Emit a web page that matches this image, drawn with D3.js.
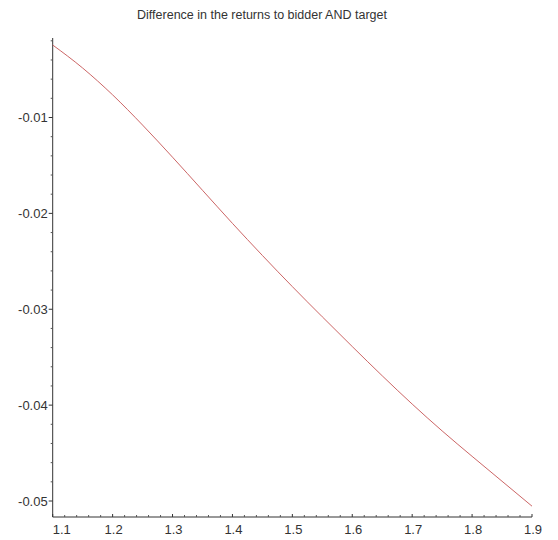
<!DOCTYPE html>
<html>
<head>
<meta charset="utf-8">
<script src="https://cdn.jsdelivr.net/npm/d3@7"></script>
<style>
  body { margin: 0; background: #fff; }
  text { font-family: "Liberation Sans", Arial, sans-serif; fill: #333; }
</style>
</head>
<body>
<script>
var Chart = {
  width : 558,
  height : 540
};

// x values of the curve and the difference
var xs = [1.10, 1.15, 1.20, 1.25, 1.30, 1.35, 1.40, 1.45, 1.50,
          1.55, 1.60, 1.65, 1.70, 1.75, 1.80, 1.85, 1.90];
var diff = [-0.00244, -0.00484, -0.00764, -0.01079, -0.01414, -0.01759,
            -0.02104, -0.02439, -0.02764, -0.03079, -0.03389, -0.03694,
            -0.03989, -0.04269, -0.04534, -0.04794, -0.05054];

var xTicks = [1.1, 1.2, 1.3, 1.4, 1.5, 1.6, 1.7, 1.8, 1.9];
var yTicks = [-0.01, -0.02, -0.03, -0.04, -0.05];
var title = "Difference in the returns to bidder AND target";

var svg = d3.select('body').append('svg')
  .attr('width', Chart.width)
  .attr('height', Chart.height);

var x = d3.scaleLinear().domain([1.1, 1.9]).range([52.7, 532]);
var y = d3.scaleLinear().domain([-0.05, -0.01]).range([501, 117.5]);

// axis extents
var yTop = y.invert(38), yBottom = y.invert(517);

// minor ticks every 0.02 on x and 0.002 on y
var xMinor = d3.range(0, 41).map(function(i){ return 1.1 + i * 0.02; })
  .filter(function(v){ return Math.abs(Math.round(v * 10) - v * 10) > 1e-6; });
var yMinor = d3.range(0, 26).map(function(i){ return -0.002 - i * 0.002; })
  .filter(function(v){ return v <= yTop && v >= yBottom &&
    Math.abs(Math.round(v * 100) - v * 100) > 1e-6; });

// axis lines
svg.append('line')
  .attr('x1', x(1.1)).attr('x2', x(1.1))
  .attr('y1', y(yTop)).attr('y2', y(yBottom))
  .attr('stroke', '#333');
svg.append('line')
  .attr('x1', x(1.1)).attr('x2', x(1.9))
  .attr('y1', y(yBottom)).attr('y2', y(yBottom))
  .attr('stroke', '#333');

// y ticks
svg.selectAll('line.ymaj').data(yTicks).enter().append('line')
  .attr('class', 'ymaj')
  .attr('x1', x(1.1) - 4).attr('x2', x(1.1))
  .attr('y1', function(d){ return y(d); })
  .attr('y2', function(d){ return y(d); })
  .attr('stroke', '#333');
svg.selectAll('line.ymin').data(yMinor).enter().append('line')
  .attr('class', 'ymin')
  .attr('x1', x(1.1) - 2).attr('x2', x(1.1))
  .attr('y1', function(d){ return y(d); })
  .attr('y2', function(d){ return y(d); })
  .attr('stroke', '#555');
svg.selectAll('text.ylab').data(yTicks).enter().append('text')
  .attr('class', 'ylab')
  .attr('x', x(1.1) - 5)
  .attr('y', function(d){ return y(d); })
  .attr('dy', '0.35em')
  .attr('text-anchor', 'end')
  .style('font-size', '13px')
  .text(function(d){ return d3.format('.2f')(d).replace('−', '-'); });

// x ticks
svg.selectAll('line.xmaj').data(xTicks).enter().append('line')
  .attr('class', 'xmaj')
  .attr('x1', function(d){ return x(d); })
  .attr('x2', function(d){ return x(d); })
  .attr('y1', y(yBottom) - 3).attr('y2', y(yBottom))
  .attr('stroke', '#333');
svg.selectAll('line.xmin').data(xMinor).enter().append('line')
  .attr('class', 'xmin')
  .attr('x1', function(d){ return x(d); })
  .attr('x2', function(d){ return x(d); })
  .attr('y1', y(yBottom) - 2).attr('y2', y(yBottom))
  .attr('stroke', '#555');
svg.selectAll('text.xlab').data(xTicks).enter().append('text')
  .attr('class', 'xlab')
  .attr('x', function(d, i){ return i === 0 ? x(d) : x(d) + 1; })
  .attr('y', 534)
  .attr('text-anchor', function(d, i){ return i === 0 ? 'start' : 'middle'; })
  .style('font-size', '13px')
  .text(function(d){ return d3.format('.1f')(d); });

// the curve
var line = d3.line()
  .x(function(d, i){ return x(xs[i]); })
  .y(function(d){ return y(d); })
  .curve(d3.curveMonotoneX);

svg.append('path')
  .datum(diff)
  .attr('d', line)
  .attr('fill', 'none')
  .attr('stroke', '#cc6666')
  .attr('stroke-width', 1);

// title
svg.append('text')
  .attr('x', 262)
  .attr('y', 19)
  .attr('text-anchor', 'middle')
  .style('font-size', '12.5px')
  .text(title);
</script>
</body>
</html>
